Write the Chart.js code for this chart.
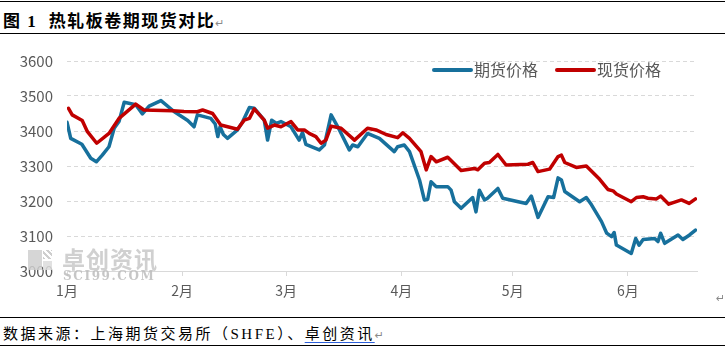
<!DOCTYPE html>
<html>
<head>
<meta charset="utf-8">
<script src="https://cdn.jsdelivr.net/npm/chart.js@4.4.0/dist/chart.umd.min.js"></script>
<style>
  body { margin: 0; background: #fff; width: 725px; height: 351px; position: relative; overflow: hidden; }
  .rule { position: absolute; left: 0; width: 725px; height: 1px; background: #000; }
  .title { position: absolute; left: 3px; top: 7px; font: bold 17px "Liberation Serif", "Noto Sans CJK SC"; letter-spacing: 1.5px; color: #000; }
  .source { position: absolute; left: 3px; top: 322px; font: 15px "Liberation Serif", "Noto Sans CJK SC"; letter-spacing: 2.5px; color: #000; }
  .source u { text-decoration-color: #2b5fd9; text-underline-offset: 3px; }
  .mark { color: #8a8a8a; font: 11px "DejaVu Sans"; letter-spacing: 0; }
  .wm { position: absolute; color: #c8c8c8; line-height: 1; }
  #wrap { position: absolute; left: 0; top: 33px; width: 725px; height: 284px; }
  #wm { position: absolute; left: 0; top: 0; width: 200px; height: 300px; z-index: 2; }
</style>
</head>
<body>
<div class="rule" style="top:1px"></div>
<div class="title">图 1&nbsp;&nbsp;热轧板卷期现货对比<span class="mark">↵</span></div>
<div class="rule" style="top:33px"></div>

<div id="wrap"><canvas id="priceChart"></canvas></div>

<!-- watermark, semi transparent over the plot -->
<div id="wm" style="opacity:0.85">
  <div class="wm" style="left:28px;top:250px;width:14px;height:20px;background:#cfcfcf"></div>
  <div class="wm" style="left:43px;top:250px;width:9px;height:9px;background:repeating-linear-gradient(45deg,#c6c6c6 0 2px,#fff 2px 4px)"></div>
  <div class="wm" style="left:43px;top:261px;width:9px;height:9px;background:#dcdcdc"></div>
  <div class="wm" style="left:62px;top:241px;font:bold 23px 'Noto Sans CJK SC';letter-spacing:1px">卓创资讯</div>
  <div class="wm" style="left:63px;top:269px;font:bold 12px 'DejaVu Serif';letter-spacing:1.6px;color:#bdbdbd">SCI99.COM</div>
</div>
<div class="mark" style="position:absolute;left:716px;top:292px">↵</div>

<div class="rule" style="top:317px"></div>
<div class="source">数据来源：上海期货交易所（SHFE）、<u>卓创资讯</u><span class="mark">↵</span></div>
<div class="rule" style="top:345px"></div>

<script>
// x = days since 1 Jan
const monthStarts = [0, 31, 59, 90, 120, 151];
const monthLabels = ['1月', '2月', '3月', '4月', '5月', '6月'];
const yTicks = [3000, 3100, 3200, 3300, 3400, 3500, 3600];

const futuresDays = [0, 1, 4, 6.4, 7.9, 9.5, 11.3, 12.7, 14, 15.4, 18.5, 20.3, 22.1, 25.3, 28.9, 32.5,
  34.2, 35.1, 38.7, 39.9, 40.6, 41.2, 42.1, 43.2, 45.9, 47.3, 49.1, 50.4, 53.1, 54, 55.1, 56.3, 57.6,
  60.3, 62.5, 63.4, 64.3, 67.9, 69.3, 71.1, 72.9, 76, 76.9, 78.3, 80.9, 84.1, 88.1, 89, 90.8, 92.2,
  94.9, 96.2, 97.1, 98, 99.4, 102.5, 103.4, 104.3, 106.1, 109.2, 110.1, 111, 112.4, 113.2, 116, 117.3,
  123.6, 125, 126.8, 129.5, 131, 132.2, 133.1, 134, 138, 139.8, 141.2, 143.9, 145.3, 146.6, 147.3,
  147.9, 151.9, 153.1, 154, 155.1, 158.2, 159.1, 159.8, 160.9, 164.5, 165.8, 167.6, 169.2];
const futuresPrice = [3425, 3379, 3362, 3322, 3312, 3331, 3355, 3408, 3427, 3482, 3475, 3449, 3471, 3487, 3455, 3430,
  3412, 3446, 3436, 3420, 3384, 3412, 3390, 3379, 3403, 3427, 3467, 3465, 3431, 3374, 3431, 3422, 3427,
  3412, 3374, 3396, 3362, 3346, 3360, 3446, 3412, 3346, 3360, 3355, 3393, 3379, 3341, 3355, 3360, 3341,
  3260, 3203, 3205, 3255, 3241, 3241, 3231, 3198, 3179, 3210, 3169, 3231, 3203, 3208, 3236, 3208,
  3193, 3214, 3153, 3212, 3210, 3266, 3260, 3227, 3198, 3210, 3189, 3141, 3108, 3098, 3110,
  3074, 3050, 3093, 3074, 3090, 3093, 3084, 3108, 3079, 3103, 3090, 3103, 3117];

const spotDays = [0.4, 1.4, 4.1, 5.5, 8, 11.3, 14, 18.5, 20.7, 28.4, 31.5, 35.1, 36.5, 39.2, 41.4, 45.9,
  47.7, 49.1, 50.4, 53.1, 54, 55.8, 57.6, 60.3, 62.1, 63.9, 65.2, 67, 68.4, 69.7, 71.1, 73.8, 77.4,
  80.9, 83.2, 85.9, 89, 90.4, 92.2, 95.3, 96.7, 98, 99.4, 102.5, 106.1, 109.7, 110.6, 112.4, 113.7,
  116, 118.2, 124.1, 125.4, 126.8, 129.9, 132.2, 133.1, 134, 137.1, 139.8, 143.4, 145.6, 147, 147.9,
  151.9, 153.3, 155.1, 156.4, 158.7, 159.8, 162, 165.4, 167.5, 169.2];
const spotPrice = [3465, 3446, 3430, 3398, 3365, 3393, 3436, 3477, 3460, 3458, 3456, 3455, 3460, 3450, 3417, 3405,
  3431, 3436, 3463, 3431, 3408, 3417, 3412, 3427, 3403, 3403, 3393, 3384, 3365, 3374, 3414, 3408, 3374,
  3408, 3403, 3390, 3381, 3395, 3379, 3341, 3289, 3327, 3312, 3325, 3287, 3293, 3289, 3308, 3310,
  3333, 3303, 3305, 3310, 3284, 3291, 3327, 3331, 3310, 3296, 3300, 3262, 3233, 3229, 3220,
  3198, 3210, 3212, 3208, 3206, 3214, 3191, 3203, 3193, 3206];

const blue = '#17709c';
const red = '#c00000';
const grey = '#595959';

function toPoints(xs, ys) {
  return xs.map((x, i) => ({ x: x, y: ys[i] }));
}

// legend drawn inside the plot, like the original
const insideLegend = {
  id: 'insideLegend',
  afterDraw(chart) {
    const ctx = chart.ctx;
    const items = [
      { label: '期货价格', color: blue, x: 434 },
      { label: '现货价格', color: red, x: 557 }
    ];
    ctx.save();
    ctx.font = '16px "Noto Sans CJK SC"';
    ctx.textBaseline = 'middle';
    ctx.lineCap = 'round';
    items.forEach(it => {
      ctx.strokeStyle = it.color;
      ctx.lineWidth = 4;
      ctx.beginPath();
      ctx.moveTo(it.x, 37);
      ctx.lineTo(it.x + 37, 37);
      ctx.stroke();
      ctx.fillStyle = grey;
      ctx.fillText(it.label, it.x + 40, 37);
    });
    ctx.restore();
  }
};

const ctx = document.getElementById('priceChart').getContext('2d');
new Chart(ctx, {
  type: 'line',
  data: {
    datasets: [
      {
        label: '期货价格',
        data: toPoints(futuresDays, futuresPrice),
        borderColor: blue,
        borderWidth: 3.5,
        pointRadius: 0,
        tension: 0,
        borderJoinStyle: 'round',
        borderCapStyle: 'round',
        order: 2
      },
      {
        label: '现货价格',
        data: toPoints(spotDays, spotPrice),
        borderColor: red,
        borderWidth: 3.5,
        pointRadius: 0,
        tension: 0,
        borderJoinStyle: 'round',
        borderCapStyle: 'round',
        order: 1
      }
    ]
  },
  options: {
    responsive: true,
    maintainAspectRatio: false,
    animation: false,
    layout: { padding: { top: 28, right: 28, left: 0, bottom: 0 } },
    plugins: { legend: { display: false }, tooltip: { enabled: false } },
    scales: {
      x: {
        type: 'linear',
        min: 0,
        max: 169.6,
        afterBuildTicks: scale => { scale.ticks = monthStarts.map(v => ({ value: v })); },
        afterFit: scale => { scale.height = 46; },
        ticks: {
          color: grey,
          font: { family: 'Noto Sans CJK SC', size: 14 },
          padding: 6,
          maxRotation: 0,
          autoSkip: false,
          callback: v => monthLabels[monthStarts.indexOf(v)]
        },
        grid: { drawOnChartArea: false, drawTicks: true, tickLength: 5, color: '#d9d9d9' },
        border: { color: '#d9d9d9', width: 1 }
      },
      y: {
        min: 3000,
        max: 3600,
        afterBuildTicks: scale => { scale.ticks = yTicks.map(v => ({ value: v })); },
        afterFit: scale => { scale.width = 67; },
        ticks: {
          color: grey,
          font: { family: 'Noto Sans CJK SC', size: 15 },
          padding: 14,
          callback: v => String(v)
        },
        grid: { drawTicks: false, color: '#d9d9d9', lineWidth: 1 },
        border: { display: false, dash: [4, 3] }
      }
    }
  },
  plugins: [insideLegend]
});
</script>
</body>
</html>
